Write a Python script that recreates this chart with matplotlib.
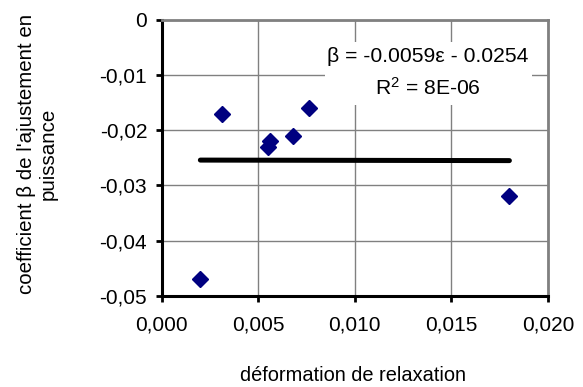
import matplotlib
matplotlib.use("Agg")
import matplotlib.pyplot as plt
import numpy as np
from matplotlib.ticker import FuncFormatter
from matplotlib.patches import Rectangle

plt.rcParams['font.family'] = ['Liberation Sans', 'DejaVu Sans']
plt.rcParams['mathtext.fontset'] = 'custom'
plt.rcParams['mathtext.rm'] = 'Liberation Sans'
plt.rcParams['mathtext.it'] = 'Liberation Sans'
plt.rcParams['mathtext.default'] = 'regular'

# relaxation strain vs. fitted power-law coefficient beta
deformation = [0.0020, 0.0031, 0.0055, 0.0056, 0.0068, 0.0076, 0.0180]
beta = [-0.047, -0.017, -0.023, -0.022, -0.021, -0.016, -0.032]

# linear trend line
slope = -0.0059
intercept = -0.0254
trend_x = [min(deformation), max(deformation)]

x_ticks = [0.000, 0.005, 0.010, 0.015, 0.020]
y_ticks = [0.00, -0.01, -0.02, -0.03, -0.04, -0.05]

fig = plt.figure(figsize=(5.83, 3.87), dpi=100)
ax = fig.add_axes([0.2774, 0.236, 0.6626, 0.7124])

ax.set_xlim(0.0, 0.020)
ax.set_ylim(-0.05, 0.0)
ax.set_xticks(x_ticks)
ax.set_yticks(y_ticks)

ax.grid(True, color='#808080', linewidth=1.0)
ax.set_axisbelow(True)

ax.xaxis.set_major_formatter(FuncFormatter(lambda v, p: f"{v:.3f}".replace('.', ',')))
ax.yaxis.set_major_formatter(FuncFormatter(
    lambda v, p: "0" if abs(v) < 1e-12 else f"{v:.2f}".replace('.', ',')))

for side in ('left', 'bottom'):
    ax.spines[side].set_color('black')
    ax.spines[side].set_linewidth(2.2)
for side in ('top', 'right'):
    ax.spines[side].set_color('#808080')
    ax.spines[side].set_linewidth(2.0)

ax.tick_params(axis='both', direction='out', length=4.5, width=2.0,
               color='black', labelsize=15)
ax.tick_params(axis='x', pad=10)
ax.tick_params(axis='y', pad=6)

tx = np.array(trend_x)
ax.plot(tx, slope * tx + intercept, color='black', linewidth=3.6,
        solid_capstyle='round', zorder=3)

ax.plot(deformation, beta, linestyle='none', marker='D', markersize=8,
        color='#000080', markeredgecolor='#000080', zorder=4)

# equation box
ax.add_patch(Rectangle((0.423, 0.692), 0.536, 0.228, transform=ax.transAxes,
                       facecolor='white', edgecolor='none', zorder=5))
ax.text(0.689, 0.868, "β = -0.0059ε - 0.0254", transform=ax.transAxes,
        ha='center', va='center', fontsize=15.2, zorder=6)
ax.text(0.689, 0.752, "R$^2$ = 8E-06", transform=ax.transAxes,
        ha='center', va='center', fontsize=15.2, zorder=6)

fig.text(0.606, 0.03, "déformation de relaxation", ha='center', va='center',
         fontsize=14.4)
fig.text(0.064, 0.603, "coefficient β de l'ajustement en\npuissance",
         ha='center', va='center', rotation=90, fontsize=14.8, linespacing=1.15)

fig.savefig("out.png", dpi=100)
